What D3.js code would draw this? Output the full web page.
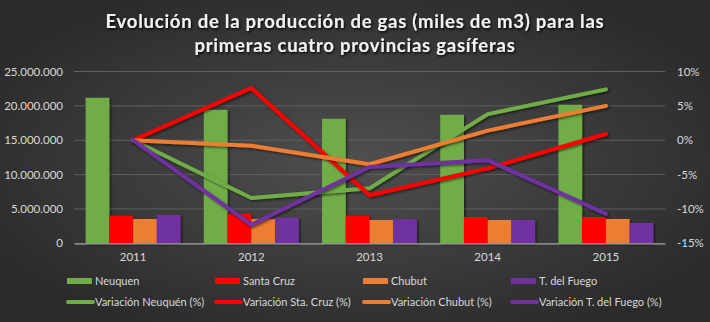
<!DOCTYPE html>
<html>
<head>
<meta charset="utf-8">
<script src="https://cdn.jsdelivr.net/npm/d3@7"></script>
<style>
  html, body { margin: 0; padding: 0; background: #2e2e2e; }
  svg { display: block; }
  text { font-family: Lato, "Open Sans", sans-serif; }
</style>
</head>
<body>
<div id="chart"></div>
<script>
// Years on the category axis
const years = ["2011", "2012", "2013", "2014", "2015"];

// Gas production per province (miles de m3)
const neuquen    = [21180000, 19430000, 18120000, 18700000, 20160000];
const santaCruz  = [4020000, 4310000, 4020000, 3830000, 3830000];
const chubut     = [3540000, 3540000, 3400000, 3400000, 3540000];
const tdelFuego  = [4120000, 3730000, 3500000, 3400000, 2960000];

// Year-over-year variation, in percent
const varNeuquen   = [0, -8.4, -7.0, 3.8, 7.4];
const varSantaCruz = [0, 7.6, -8.0, -4.1, 0.9];
const varChubut    = [0, -0.8, -3.5, 1.4, 5.0];
const varTdelFuego = [0, -12.3, -3.9, -2.9, -10.7];

// Axis ticks
const leftTicks  = [0, 5000000, 10000000, 15000000, 20000000, 25000000];
const rightTicks = [-15, -10, -5, 0, 5, 10];

const barSeries = [
  { name: "Neuquen",      values: neuquen,   color: "#70ad47" },
  { name: "Santa Cruz",   values: santaCruz, color: "#ff0000" },
  { name: "Chubut",       values: chubut,    color: "#ed7d31" },
  { name: "T. del Fuego", values: tdelFuego, color: "#7030a0" }
];
const lineSeries = [
  { name: "Variación Neuquén (%)",       values: varNeuquen,   color: "#70ad47" },
  { name: "Variación Sta. Cruz (%)",     values: varSantaCruz, color: "#ff0000" },
  { name: "Variación Chubut (%)",        values: varChubut,    color: "#ed7d31" },
  { name: "Variación T. del Fuego (%)",  values: varTdelFuego, color: "#7030a0" }
];

const W = 710, H = 322;
const plot = { left: 74, right: 665, top: 71.5, bottom: 243.3 };

const svg = d3.select("#chart").append("svg")
  .attr("width", W).attr("height", H);

const defs = svg.append("defs");
const bg = defs.append("radialGradient").attr("id", "bg")
  .attr("cx", "50%").attr("cy", "50%").attr("r", "60%");
bg.append("stop").attr("offset", "0%").attr("stop-color", "#4f4f4f");
bg.append("stop").attr("offset", "100%").attr("stop-color", "#2a2a2a");

const shadow = defs.append("filter").attr("id", "shadow")
  .attr("x", "-10%").attr("y", "-10%").attr("width", "130%").attr("height", "130%");
shadow.append("feDropShadow").attr("dx", 1.5).attr("dy", 1.5)
  .attr("stdDeviation", 1.2).attr("flood-color", "#000").attr("flood-opacity", 0.55);

const tshadow = defs.append("filter").attr("id", "tshadow")
  .attr("x", "-5%").attr("y", "-20%").attr("width", "110%").attr("height", "150%");
tshadow.append("feDropShadow").attr("dx", 1).attr("dy", 1.5)
  .attr("stdDeviation", 0.8).attr("flood-color", "#000").attr("flood-opacity", 0.9);

svg.append("rect").attr("width", W).attr("height", H).attr("fill", "url(#bg)");

// Title
const title = svg.append("text")
  .attr("x", 355).attr("text-anchor", "middle")
  .attr("fill", "#f2f2f2").attr("font-size", 18.5).attr("font-weight", "bold")
  .attr("letter-spacing", 0.75).attr("filter", "url(#tshadow)");
title.append("tspan").attr("x", 355).attr("y", 28)
  .text("Evolución de la producción de gas (miles de m3) para las");
title.append("tspan").attr("x", 355).attr("y", 52)
  .text("primeras cuatro provincias gasíferas");

// Scales
const x = d3.scaleBand().domain(years).range([plot.left, plot.right]).padding(0);
const xInner = d3.scaleBand().domain(barSeries.map(d => d.name))
  .range([0, x.bandwidth()]).paddingOuter(0.49).paddingInner(0);
const yL = d3.scaleLinear().domain([0, 25000000]).range([plot.bottom, plot.top]);
const yR = d3.scaleLinear().domain([-15, 10]).range([plot.bottom, plot.top]);

// Gridlines
svg.append("g").selectAll("line").data(leftTicks.filter(t => t > 0)).join("line")
  .attr("x1", plot.left).attr("x2", plot.right)
  .attr("y1", d => yL(d)).attr("y2", d => yL(d))
  .attr("stroke", "#5f5f5f").attr("stroke-width", 1);

const fmt = d => d === 0 ? "0" : d3.format(",")(d).replace(/,/g, ".");

// Left axis
const gL = svg.append("g").attr("transform", `translate(${plot.left},0)`)
  .call(d3.axisLeft(yL).tickValues(leftTicks).tickFormat(fmt).tickSize(0).tickPadding(11));
gL.select(".domain").remove();
gL.selectAll("text").attr("fill", "#d9d9d9").attr("font-size", 11.5)
  .attr("font-family", "Lato, sans-serif");

// Right axis
const gR = svg.append("g").attr("transform", `translate(${plot.right},0)`)
  .call(d3.axisRight(yR).tickValues(rightTicks).tickFormat(d => d + "%").tickSize(0).tickPadding(12));
gR.select(".domain").remove();
gR.selectAll("text").attr("fill", "#d9d9d9").attr("font-size", 11.5)
  .attr("font-family", "Lato, sans-serif");

// Bars
const groups = svg.append("g").selectAll("g").data(barSeries).join("g")
  .attr("fill", d => d.color).attr("filter", "url(#shadow)");
groups.selectAll("rect")
  .data(s => s.values.map((v, i) => ({ name: s.name, year: years[i], v })))
  .join("rect")
  .attr("x", d => x(d.year) + xInner(d.name))
  .attr("width", xInner.bandwidth())
  .attr("y", d => yL(d.v))
  .attr("height", d => yL(0) - yL(d.v));

// Bottom axis
const gB = svg.append("g").attr("transform", `translate(0,${plot.bottom})`)
  .call(d3.axisBottom(x).tickSize(0).tickPadding(10));
gB.select(".domain").attr("stroke", "#a6a6a6").attr("stroke-width", 1.3);
gB.selectAll("text").attr("fill", "#d9d9d9").attr("font-size", 11.5)
  .attr("font-family", "Lato, sans-serif");

// Variation lines
const line = d3.line()
  .x((d, i) => x(years[i]) + x.bandwidth() / 2)
  .y(d => yR(d));
svg.append("g").selectAll("path").data(lineSeries).join("path")
  .attr("d", d => line(d.values))
  .attr("fill", "none").attr("stroke", d => d.color)
  .attr("stroke-width", 4).attr("stroke-linecap", "round").attr("stroke-linejoin", "round")
  .attr("filter", "url(#shadow)");

// Legend
const legX = [67, 215, 363, 511];
const leg1 = svg.append("g").selectAll("g").data(barSeries).join("g")
  .attr("transform", (d, i) => `translate(${legX[i]},281)`);
leg1.append("rect").attr("x", 0).attr("y", -3).attr("width", 25).attr("height", 6)
  .attr("fill", d => d.color);
leg1.append("text").attr("x", 28).attr("y", 4).text(d => d.name)
  .attr("fill", "#d9d9d9").attr("font-size", 11);

const leg2 = svg.append("g").selectAll("g").data(lineSeries).join("g")
  .attr("transform", (d, i) => `translate(${legX[i]},302)`);
leg2.append("line").attr("x1", 1).attr("x2", 26).attr("y1", 0).attr("y2", 0)
  .attr("stroke", d => d.color).attr("stroke-width", 4).attr("stroke-linecap", "round");
leg2.append("text").attr("x", 28).attr("y", 4).text(d => d.name)
  .attr("fill", "#d9d9d9").attr("font-size", 11);
</script>
</body>
</html>
